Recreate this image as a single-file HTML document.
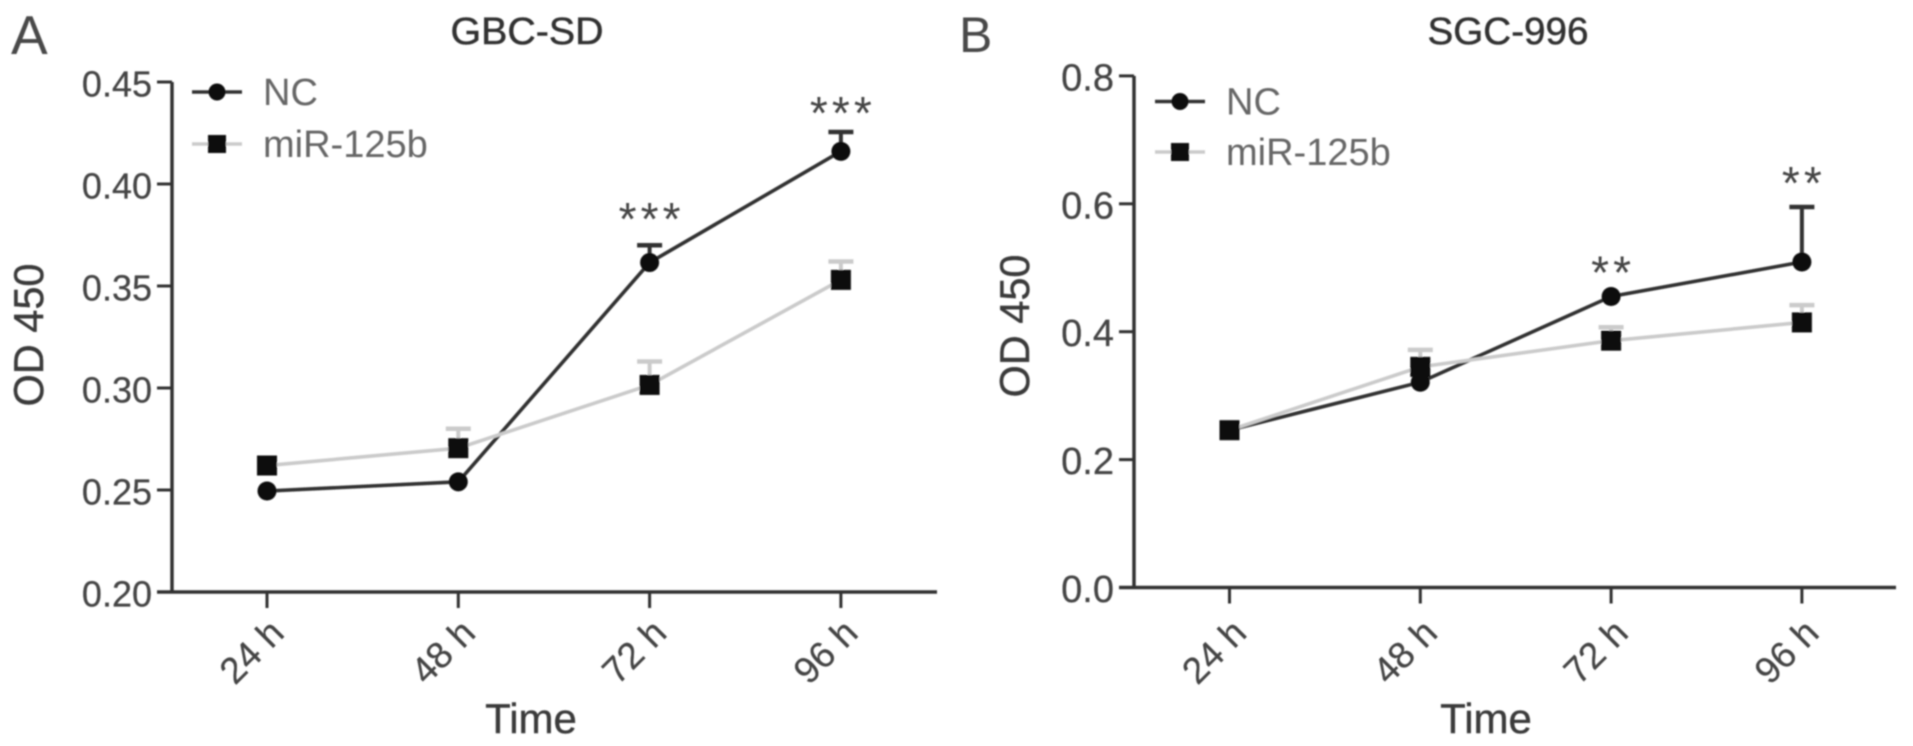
<!DOCTYPE html>
<html lang="en">
<head>
<meta charset="utf-8">
<title>OD 450 over time for GBC-SD and SGC-996</title>
<style>
  html, body { margin: 0; padding: 0; background: #fff; }
  body { width: 1913px; height: 746px; overflow: hidden; }
  svg { display: block; }
  text { font-family: "Liberation Sans", sans-serif; }
</style>
</head>
<body>
<svg id="figure" xmlns="http://www.w3.org/2000/svg" width="1913" height="746" viewBox="0 0 1913 746">
  <defs>
    <filter id="soft" x="-5%" y="-5%" width="110%" height="110%">
      <feGaussianBlur stdDeviation="0.8"/>
    </filter>
  </defs>
  <rect width="1913" height="746" fill="#fff"/>
  <g id="root" filter="url(#soft)">
    <text x="11" y="54" font-size="55" fill="#4a4a4a">A</text>
    <text x="959" y="52" font-size="50" fill="#4a4a4a">B</text>
    <text x="527" y="44" font-size="38" text-anchor="middle" textLength="153" lengthAdjust="spacingAndGlyphs" fill="#333" stroke="#333" stroke-width="0.5">GBC-SD</text>
    <text x="1508" y="44" font-size="38" text-anchor="middle" textLength="161" lengthAdjust="spacingAndGlyphs" fill="#333" stroke="#333" stroke-width="0.5">SGC-996</text>
    <text transform="translate(43 335) rotate(-90)" font-size="41.5" text-anchor="middle" fill="#3a3a3a" stroke="#3a3a3a" stroke-width="0.4">OD 450</text>
    <text transform="translate(1029 326) rotate(-90)" font-size="41.5" text-anchor="middle" fill="#3a3a3a" stroke="#3a3a3a" stroke-width="0.4">OD 450</text>
    <text x="531" y="733" font-size="42" text-anchor="middle" fill="#3a3a3a" stroke="#3a3a3a" stroke-width="0.4">Time</text>
    <text x="1486" y="733" font-size="42" text-anchor="middle" fill="#3a3a3a" stroke="#3a3a3a" stroke-width="0.4">Time</text>
    <g id="panel-a"></g>
    <g id="panel-b"></g>
  </g>
</svg>
<script>
// Shared data
const categories = ['24 h', '48 h', '72 h', '96 h'];
const seriesNames = ['NC', 'miR-125b'];

// Panel A (GBC-SD)
const aYTicks = [0.20, 0.25, 0.30, 0.35, 0.40, 0.45];
const aNcValues = [0.2495, 0.254, 0.3615, 0.416];
const aNcErrors = [0, 0, 0.0085, 0.0095];
const aMirValues = [0.262, 0.2705, 0.3015, 0.353];
const aMirErrors = [0, 0.0095, 0.0115, 0.009];
const aStarLabels = ['', '', '***', '***'];
const aStarLevels = [0, 0, 0.3858, 0.4377];

// Panel B (SGC-996)
const bYTicks = [0.0, 0.2, 0.4, 0.6, 0.8];
const bNcValues = [0.246, 0.321, 0.455, 0.509];
const bNcErrors = [0, 0, 0, 0.086];
const bMirValues = [0.246, 0.345, 0.386, 0.4145];
const bMirErrors = [0, 0.0265, 0.021, 0.027];
const bStarLabels = ['', '', '**', '**'];
const bStarLevels = [0, 0, 0.502, 0.642];

const NS = 'http://www.w3.org/2000/svg';
const DARK = '#303030';
const LIGHT = '#cbcbcb';
const MARK = '#111';

function add(parent, tag, attrs, text) {
  const el = document.createElementNS(NS, tag);
  for (const k in attrs) el.setAttribute(k, attrs[k]);
  if (text !== undefined) el.textContent = text;
  parent.appendChild(el);
  return el;
}

function drawPanel(cfg) {
  const g = document.getElementById(cfg.id);
  const x = i => cfg.x0 + i * cfg.xStep;
  const y = v => cfg.yBottom - (v - cfg.yTicks[0]) * cfg.yScale;
  const yTop = y(cfg.yTicks[cfg.yTicks.length - 1]);
  let el;

  el = add(g, 'line', {x1: cfg.axisX, x2: cfg.axisX, y1: yTop, y2: cfg.yBottom, stroke: DARK, 'stroke-width': 3.5});
  
  

  el = add(g, 'line', {x1: cfg.axisX - 15, x2: cfg.xEnd, y1: cfg.yBottom, y2: cfg.yBottom, stroke: DARK, 'stroke-width': 3.5});
  
  

  cfg.yTicks.forEach(v => {
    const t = add(g, 'line', {x1: cfg.axisX - 15, x2: cfg.axisX, y1: y(v), y2: y(v), stroke: DARK, 'stroke-width': 3});
    
    
    const l = add(g, 'text', {x: cfg.axisX - 20, y: y(v) + 14.5, 'font-size': cfg.tickSize, 'text-anchor': 'end', fill: '#444', stroke: '#444', 'stroke-width': 0.25}, v.toFixed(cfg.decimals));
    
    
  });

  categories.forEach((c, i) => {
    const t = add(g, 'line', {x1: x(i), x2: x(i), y1: cfg.yBottom, y2: cfg.yBottom + 16, stroke: DARK, 'stroke-width': 3});
    
    
    const cx = x(i) - 15;
    const cy = 652;
    const l = add(g, 'text', {transform: 'translate(' + cx + ' ' + cy + ') rotate(-45)', y: 12, 'font-size': 37, 'text-anchor': 'middle', fill: '#444', stroke: '#444', 'stroke-width': 0.25}, c);
    
    
  });

  const series = [
    {name: seriesNames[0], values: cfg.ncValues, errors: cfg.ncErrors, color: DARK, shape: 'circle', key: 'nc'},
    {name: seriesNames[1], values: cfg.mirValues, errors: cfg.mirErrors, color: LIGHT, shape: 'square', key: 'mir'}
  ];

  // Error bars sit beneath all the lines; a zero error draws nothing
  series.forEach(s => {
    s.values.forEach((v, i) => {
      if (s.errors[i] === 0) return;
      const top = y(v + s.errors[i]);
      const stem = add(g, 'line', {x1: x(i), x2: x(i), y1: y(v), y2: top, stroke: s.color, 'stroke-width': 4});
      
      
      const cap = add(g, 'line', {x1: x(i) - 12.5, x2: x(i) + 12.5, y1: top, y2: top, stroke: s.color, 'stroke-width': 4.5});
      
      
    });
  });

  series.forEach(s => {
    const pts = s.values.map((v, i) => x(i) + ',' + y(v)).join(' ');
    const line = add(g, 'polyline', {points: pts, fill: 'none', stroke: s.color, 'stroke-width': 3.6});
    
    
    s.values.forEach((v, i) => {
      let m;
      if (s.shape === 'circle') {
        m = add(g, 'circle', {cx: x(i), cy: y(v), r: 9.5, fill: MARK});
      } else {
        m = add(g, 'rect', {x: x(i) - 10, y: y(v) - 10, width: 20, height: 20, fill: MARK});
      }
      
      
    });
  });

  cfg.starLabels.forEach((label, i) => {
    if (!label) return;
    const st = add(g, 'text', {x: x(i) + 2, y: y(cfg.starLevels[i]) + 22, 'font-size': 46, 'letter-spacing': 4.1, 'text-anchor': 'middle', fill: '#444'}, label);
    
    
  });

  // Legend
  series.forEach((s, k) => {
    const ly = cfg.legendY + k * cfg.legendStep;
    const ll = add(g, 'line', {x1: cfg.legendX - 25, x2: cfg.legendX + 25, y1: ly, y2: ly, stroke: s.color, 'stroke-width': 3.6});
    
    
    let lm;
    if (s.shape === 'circle') {
      lm = add(g, 'circle', {cx: cfg.legendX, cy: ly, r: 8.5, fill: MARK});
    } else {
      lm = add(g, 'rect', {x: cfg.legendX - 9, y: ly - 9, width: 18, height: 18, fill: MARK});
    }
    
    
    const lt = add(g, 'text', {x: cfg.legendX + 46, y: ly + 13, 'font-size': 38, fill: '#666'}, s.name);
    
    
  });
}

drawPanel({
  id: 'panel-a', x0: 267, xStep: 191.3, axisX: 172, xEnd: 937, yBottom: 592, yScale: 2040,
  yTicks: aYTicks, decimals: 2, tickSize: 36,
  ncValues: aNcValues, ncErrors: aNcErrors, mirValues: aMirValues, mirErrors: aMirErrors,
  starLabels: aStarLabels, starLevels: aStarLevels, legendX: 217, legendY: 92, legendStep: 52
});
drawPanel({
  id: 'panel-b', x0: 1229.5, xStep: 190.8, axisX: 1134, xEnd: 1896, yBottom: 587.5, yScale: 639.5,
  yTicks: bYTicks, decimals: 1, tickSize: 38,
  ncValues: bNcValues, ncErrors: bNcErrors, mirValues: bMirValues, mirErrors: bMirErrors,
  starLabels: bStarLabels, starLevels: bStarLevels, legendX: 1180, legendY: 101.5, legendStep: 50.5
});
</script>
</body>
</html>
